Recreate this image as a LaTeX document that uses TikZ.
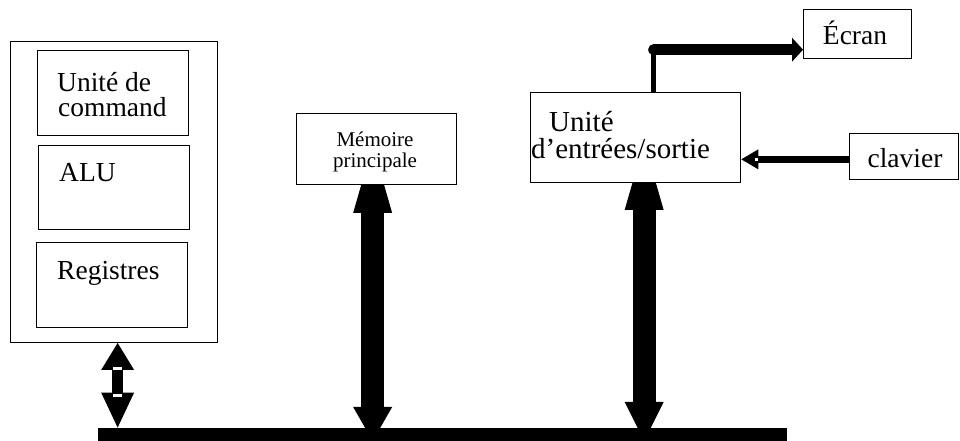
\documentclass[tikz,border=0pt]{standalone}
\usepackage{fontspec}
\setmainfont{Liberation Serif}
\usetikzlibrary{arrows.meta,calc,backgrounds}

\tikzset{
  box/.style={draw, line width=1.3pt, fill=white, inner sep=0pt, anchor=south west},
  lbl/.style={inner sep=0pt, anchor=base west, font=\fontsize{27.5}{30}\selectfont},
  biglbl/.style={inner sep=0pt, anchor=base west, font=\fontsize{29}{31}\selectfont},
  lblc/.style={inner sep=0pt, anchor=base, font=\fontsize{27.5}{30}\selectfont},
  smalllbl/.style={inner sep=0pt, anchor=base, font=\fontsize{21}{23}\selectfont},
  busarrow/.style={line width=23pt, draw=black},
}

\begin{document}
\begin{tikzpicture}[x=1pt, y=1pt]
\useasboundingbox (0,0) rectangle (960,441);

% processor and its parts
\node[box, minimum width=207pt, minimum height=301pt] (cpu) at (10,98) {};
\node[box, minimum width=151pt, minimum height=85pt] (cmd) at (37,305) {};
\node[box, minimum width=151pt, minimum height=84pt] (alu) at (38,211) {};
\node[box, minimum width=151pt, minimum height=85pt] (reg) at (36,113) {};
\node[lbl] (cmdA) at (57,349) {Unité de};
\node[lbl] (cmdB) at (58,324) {command};
\node[lbl] (aluT) at (59,259) {ALU};
\node[lbl] (regT) at (57,161) {Registres};

% main memory
\node[box, minimum width=160pt, minimum height=71pt] (mem) at (296,256) {};
\node[smalllbl] (memA) at (375,294) {Mémoire};
\node[smalllbl] (memB) at (375,273) {principale};

% input/output unit and devices
\node[box, minimum width=210pt, minimum height=90pt] (io) at (530,258) {};
\node[biglbl] (ioA) at (549,309) {Unité};
\node[biglbl] (ioB) at (531,282) {d’entrées/sortie};

\node[box, minimum width=108pt, minimum height=49pt] (ecran) at (803,382) {};
\node[lblc] (ecranT) at (855,396) {Écran};

\node[box, minimum width=109pt, minimum height=46pt] (clavier) at (849,261) {};
\node[lblc] (clavierT) at (905,273) {clavier};

% system bus
\node[fill=black, inner sep=0pt, minimum width=689pt, minimum height=13pt, anchor=south west] (bus) at (98,0) {};

\begin{pgfonlayer}{background}
  % bus links
  \draw[busarrow, {Triangle[width=39pt 0 0,length=68pt 0 0,line width=0pt 0 0]}-{Triangle[width=39pt 0 0,length=34pt 0 0,line width=0pt 0 0]}]
    ($(mem.south)+(-4,40)$) -- ($(mem.south |- bus.south)+(-4,0)$);
  \draw[busarrow, {Triangle[width=39pt 0 0,length=68pt 0 0,line width=0pt 0 0]}-{Triangle[width=39pt 0 0,length=39pt 0 0,line width=0pt 0 0]}]
    ($(io.south)+(8.5,41)$) -- ($(io.south |- bus.south)+(8.5,0)$);
  \draw[line width=11pt, {Triangle[width=33pt 0 0,length=27pt 0 0,line width=0pt 0 0]}-{Triangle[width=33pt 0 0,length=35pt 0 0,line width=0pt 0 0]}]
    ($(cpu.south)+(3.5,0)$) -- ($(cpu.south |- bus.north)+(3.5,0)$);
\end{pgfonlayer}

% small white marks on the processor link
\fill[white] (112.5,71) rectangle (121.5,74);
\fill[white] (112.5,44) rectangle (121.5,47);

% output to the screen
\coordinate (bend) at ($(io.north)+(18,42)$);
\draw[line width=5pt] ($(io.north)+(18,0)$) -- (bend);
\draw[line width=11pt, line cap=round, -{Triangle[width=24pt 0 0,length=11pt 0 0,line width=0pt 0 0]}]
  (bend) -- (bend -| ecran.west);

% input from the keyboard
\coordinate (kb) at ($(clavier.west)+(0,-3)$);
\draw[line width=6.5pt, -{Triangle[width=20pt 0 0,length=17pt 0 0,line width=0pt 0 0]}]
  (kb) -- (kb -| io.east);
\fill[white] (755,279.5) rectangle (758,282.5);
\end{tikzpicture}
\end{document}
